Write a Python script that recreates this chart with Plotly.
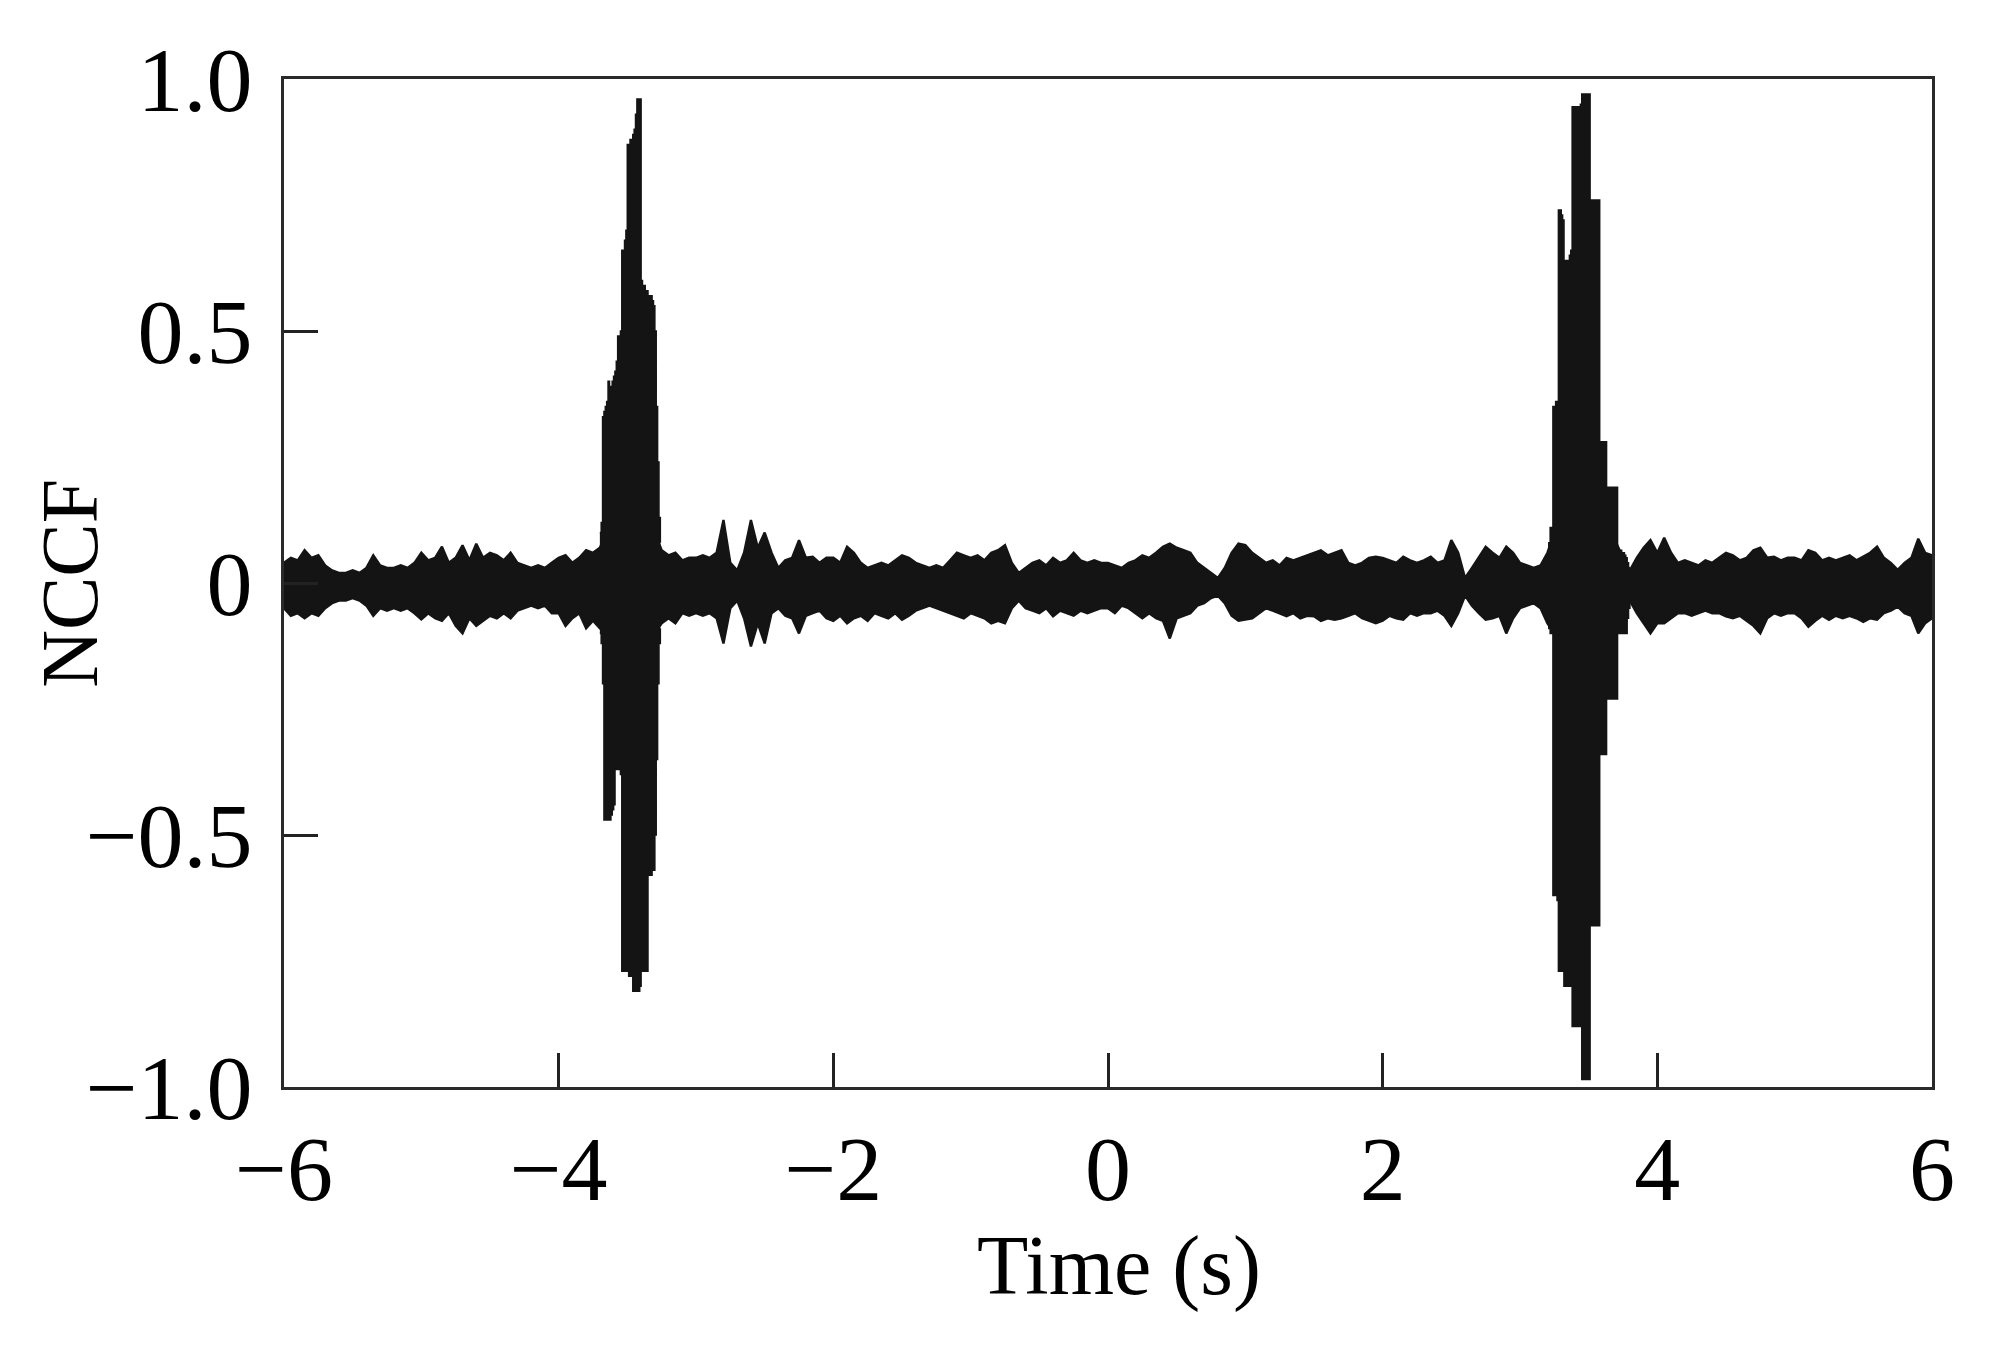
import numpy as np
import plotly.graph_objects as go

# ---------------- data ----------------
# background noise envelope, sampled every 0.05 s from -6 to 6 s
t_noise = np.round(np.arange(-6.0, 6.0001, 0.05), 2)

noise_hi = [
    # -6.00 .. -5.05
    0.04, 0.05, 0.045, 0.065, 0.05, 0.055, 0.035, 0.025, 0.02, 0.02,
    0.025, 0.02, 0.03, 0.055, 0.035, 0.03, 0.03, 0.035, 0.03, 0.04,
    # -5.00 .. -4.05
    0.06, 0.045, 0.05, 0.072, 0.04, 0.05, 0.075, 0.045, 0.078, 0.05,
    0.06, 0.055, 0.045, 0.06, 0.04, 0.035, 0.03, 0.035, 0.03, 0.04,
    # -4.00 .. -3.05
    0.05, 0.055, 0.04, 0.05, 0.065, 0.06, 0.07, 0.10, 0.10, 0.10,
    0.10, 0.10, 0.10, 0.10, 0.10, 0.065, 0.055, 0.06, 0.045, 0.05,
    # -3.00 .. -2.05
    0.05, 0.055, 0.05, 0.06, 0.125, 0.04, 0.025, 0.06, 0.125, 0.07,
    0.10, 0.06, 0.03, 0.045, 0.05, 0.085, 0.05, 0.052, 0.04, 0.05,
    # -2.00 .. -1.05
    0.05, 0.04, 0.072, 0.06, 0.04, 0.03, 0.035, 0.04, 0.035, 0.045,
    0.055, 0.05, 0.04, 0.035, 0.03, 0.035, 0.03, 0.045, 0.06, 0.055,
    # -1.00 .. -0.05
    0.05, 0.055, 0.045, 0.06, 0.065, 0.075, 0.04, 0.02, 0.03, 0.04,
    0.045, 0.035, 0.05, 0.04, 0.045, 0.06, 0.045, 0.04, 0.045, 0.04,
    # 0.00 .. 0.95
    0.04, 0.035, 0.03, 0.04, 0.045, 0.055, 0.05, 0.06, 0.072, 0.078,
    0.07, 0.065, 0.06, 0.04, 0.03, 0.02, 0.01, 0.03, 0.06, 0.078,
    # 1.00 .. 1.95
    0.075, 0.06, 0.05, 0.04, 0.045, 0.035, 0.05, 0.045, 0.05, 0.055,
    0.06, 0.065, 0.055, 0.06, 0.065, 0.04, 0.035, 0.04, 0.05, 0.052,
    # 2.00 .. 2.95
    0.05, 0.045, 0.04, 0.052, 0.045, 0.04, 0.045, 0.052, 0.04, 0.045,
    0.085, 0.06, 0.01, 0.03, 0.05, 0.072, 0.06, 0.05, 0.072, 0.06,
    # 3.00 .. 3.95
    0.04, 0.035, 0.03, 0.035, 0.06, 0.10, 0.10, 0.10, 0.10, 0.10,
    0.10, 0.10, 0.10, 0.10, 0.08, 0.05, 0.025, 0.05, 0.07, 0.085,
    # 4.00 .. 4.95
    0.06, 0.09, 0.06, 0.04, 0.045, 0.04, 0.035, 0.045, 0.04, 0.05,
    0.06, 0.055, 0.045, 0.05, 0.065, 0.07, 0.05, 0.052, 0.045, 0.05,
    # 5.00 .. 6.00
    0.05, 0.045, 0.065, 0.06, 0.045, 0.05, 0.045, 0.05, 0.055, 0.045,
    0.052, 0.06, 0.072, 0.05, 0.04, 0.026, 0.04, 0.05, 0.088, 0.06, 0.055,
]

noise_lo = [
    # -6.00 .. -5.05
    -0.05, -0.065, -0.06, -0.07, -0.06, -0.065, -0.05, -0.04, -0.035, -0.035,
    -0.03, -0.035, -0.045, -0.065, -0.05, -0.055, -0.05, -0.055, -0.05, -0.06,
    # -5.00 .. -4.05
    -0.072, -0.06, -0.07, -0.075, -0.06, -0.085, -0.10, -0.07, -0.085, -0.075,
    -0.065, -0.07, -0.06, -0.07, -0.055, -0.05, -0.045, -0.05, -0.045, -0.06,
    # -4.00 .. -3.05
    -0.06, -0.085, -0.07, -0.06, -0.09, -0.075, -0.09, -0.10, -0.10, -0.10,
    -0.10, -0.10, -0.10, -0.10, -0.10, -0.08, -0.07, -0.08, -0.06, -0.065,
    # -3.00 .. -2.05
    -0.06, -0.065, -0.06, -0.07, -0.12, -0.05, -0.035, -0.07, -0.126, -0.08,
    -0.12, -0.06, -0.05, -0.065, -0.07, -0.10, -0.065, -0.06, -0.055, -0.07,
    # -2.00 .. -1.05
    -0.075, -0.065, -0.08, -0.07, -0.065, -0.075, -0.06, -0.065, -0.07, -0.06,
    -0.073, -0.065, -0.055, -0.05, -0.045, -0.05, -0.055, -0.06, -0.066, -0.07,
    # -1.00 .. -0.05
    -0.06, -0.065, -0.07, -0.08, -0.075, -0.08, -0.05, -0.035, -0.05, -0.055,
    -0.06, -0.05, -0.066, -0.055, -0.06, -0.065, -0.055, -0.06, -0.055, -0.05,
    # 0.00 .. 0.95
    -0.05, -0.06, -0.045, -0.05, -0.06, -0.07, -0.06, -0.07, -0.075, -0.11,
    -0.07, -0.065, -0.06, -0.045, -0.04, -0.03, -0.025, -0.04, -0.065, -0.075,
    # 1.00 .. 1.95
    -0.073, -0.07, -0.06, -0.05, -0.055, -0.06, -0.066, -0.06, -0.07, -0.065,
    -0.066, -0.075, -0.07, -0.073, -0.07, -0.065, -0.06, -0.07, -0.075, -0.08,
    # 2.00 .. 2.95
    -0.075, -0.065, -0.07, -0.073, -0.06, -0.065, -0.06, -0.06, -0.055, -0.065,
    -0.085, -0.06, -0.025, -0.045, -0.06, -0.073, -0.07, -0.065, -0.10, -0.07,
    # 3.00 .. 3.95
    -0.05, -0.045, -0.04, -0.05, -0.08, -0.10, -0.10, -0.10, -0.10, -0.10,
    -0.10, -0.10, -0.10, -0.10, -0.10, -0.06, -0.035, -0.06, -0.08, -0.10,
    # 4.00 .. 4.95
    -0.08, -0.08, -0.07, -0.06, -0.06, -0.065, -0.06, -0.055, -0.06, -0.06,
    -0.066, -0.07, -0.065, -0.075, -0.085, -0.10, -0.07, -0.06, -0.065, -0.06,
    # 5.00 .. 6.00
    -0.06, -0.07, -0.087, -0.075, -0.065, -0.073, -0.065, -0.07, -0.065, -0.07,
    -0.077, -0.07, -0.073, -0.06, -0.055, -0.047, -0.06, -0.065, -0.10, -0.08, -0.07,
]

# left correlation burst, sampled every 0.01 s from -3.70 to -3.26
burst1_t = np.round(np.arange(-3.70, -3.2555, 0.01), 2)
burst1_hi = [
    0.10, 0.12, 0.33, 0.34, 0.35, 0.36, 0.40, 0.39, 0.38, 0.40,
    0.41, 0.42, 0.44, 0.49, 0.49, 0.50, 0.66, 0.66, 0.68, 0.70,
    0.87, 0.87, 0.88, 0.88, 0.89, 0.90, 0.93, 0.96, 0.96, 0.96,
    0.60, 0.59, 0.59, 0.58, 0.58, 0.57, 0.57, 0.57, 0.56, 0.55,
    0.50, 0.35, 0.24, 0.13, 0.08,
]
burst1_lo = [
    -0.10, -0.12, -0.20, -0.47, -0.47, -0.47, -0.46, -0.47, -0.46, -0.45,
    -0.44, -0.37, -0.37, -0.37, -0.37, -0.38, -0.77, -0.77, -0.77, -0.77,
    -0.77, -0.78, -0.77, -0.78, -0.81, -0.81, -0.80, -0.81, -0.81, -0.80,
    -0.77, -0.77, -0.77, -0.76, -0.77, -0.58, -0.57, -0.58, -0.57, -0.57,
    -0.50, -0.35, -0.20, -0.12, -0.09,
]

# right correlation burst, sampled every 0.01 s from 3.20 to 3.80
burst2_t = np.round(np.arange(3.20, 3.8005, 0.01), 2)
burst2_hi = [
    0.06, 0.08, 0.11, 0.11,
    0.35, 0.35, 0.36, 0.36,
    0.74, 0.74, 0.73, 0.72,
    0.64, 0.64, 0.64, 0.64, 0.65, 0.66,
    0.945, 0.945, 0.945, 0.945, 0.945, 0.945, 0.95,
    0.97, 0.97, 0.97, 0.97, 0.97, 0.97,
    0.76, 0.76, 0.76, 0.76, 0.76, 0.76, 0.76,
    0.28, 0.28, 0.28, 0.28, 0.28,
    0.19, 0.19, 0.19, 0.19, 0.19, 0.19, 0.19, 0.19,
    0.06, 0.06, 0.065, 0.06, 0.06, 0.055, 0.05,
    0.04, 0.03, 0.03,
]
burst2_lo = [
    -0.08, -0.09, -0.10, -0.10,
    -0.62, -0.62, -0.62, -0.63,
    -0.77, -0.77, -0.77, -0.77,
    -0.80, -0.80, -0.80, -0.80, -0.80, -0.80,
    -0.88, -0.88, -0.88, -0.88, -0.88, -0.88, -0.88,
    -0.985, -0.985, -0.985, -0.985, -0.985, -0.985,
    -0.68, -0.68, -0.68, -0.68, -0.68, -0.68, -0.68,
    -0.34, -0.34, -0.34, -0.34, -0.34,
    -0.23, -0.23, -0.23, -0.23, -0.23, -0.23, -0.23, -0.23,
    -0.10, -0.10, -0.10, -0.10, -0.10, -0.10, -0.10,
    -0.07, -0.05, -0.04,
]

x_ticks = [-6, -4, -2, 0, 2, 4, 6]
x_ticktext = ["\u22126", "\u22124", "\u22122", "0", "2", "4", "6"]
y_ticks = [-1.0, -0.5, 0.0, 0.5, 1.0]
y_ticktext = ["\u22121.0", "\u22120.5", "0", "0.5", "1.0"]

# ---------------- figure ----------------
INK = "#141414"
FONT = "Liberation Serif"

fig = go.Figure()

for tt, yy, shape, w in [
    (t_noise, noise_hi, "linear", 2.4),
    (t_noise, noise_lo, "linear", 2.4),
    (burst1_t, burst1_hi, "hv", 1.6),
    (burst1_t, burst1_lo, "hv", 1.6),
    (burst2_t, burst2_hi, "hv", 1.6),
    (burst2_t, burst2_lo, "hv", 1.6),
]:
    fig.add_trace(go.Scatter(
        x=tt, y=yy, mode="lines",
        line=dict(color=INK, width=w, shape=shape),
        fill="tozeroy", fillcolor=INK,
        hoverinfo="skip", showlegend=False,
    ))

axis_common = dict(
    showline=True, linewidth=3, linecolor="#2a2a2a", mirror=True,
    ticks="inside", ticklen=34, tickwidth=2.5, tickcolor="#222222",
    showgrid=False, zeroline=False,
    tickfont=dict(family=FONT, size=92, color="black"),
)

fig.update_xaxes(range=[-6, 6], tickvals=x_ticks, ticktext=x_ticktext,
                 ticklabelstandoff=0, **axis_common)
fig.update_yaxes(range=[-1, 1], tickvals=y_ticks, ticktext=y_ticktext,
                 ticklabelstandoff=10, **axis_common)

fig.add_annotation(text="Time (s)", xref="paper", yref="paper",
                   x=0.5067, y=-0.1776, xanchor="center", yanchor="middle",
                   showarrow=False, font=dict(family=FONT, size=84, color="black"))
fig.add_annotation(text="NCCF", xref="paper", yref="paper",
                   x=-0.13, y=0.5, xanchor="center", yanchor="middle",
                   textangle=-90, showarrow=False,
                   font=dict(family=FONT, size=80, color="black"))

# the page body adds an 8 px offset, so margins are reduced accordingly
fig.update_layout(
    width=2006, height=1356,
    margin=dict(l=276, r=82, t=71, b=277, autoexpand=False),
    paper_bgcolor="white", plot_bgcolor="white",
)

fig.write_html("out.html")
